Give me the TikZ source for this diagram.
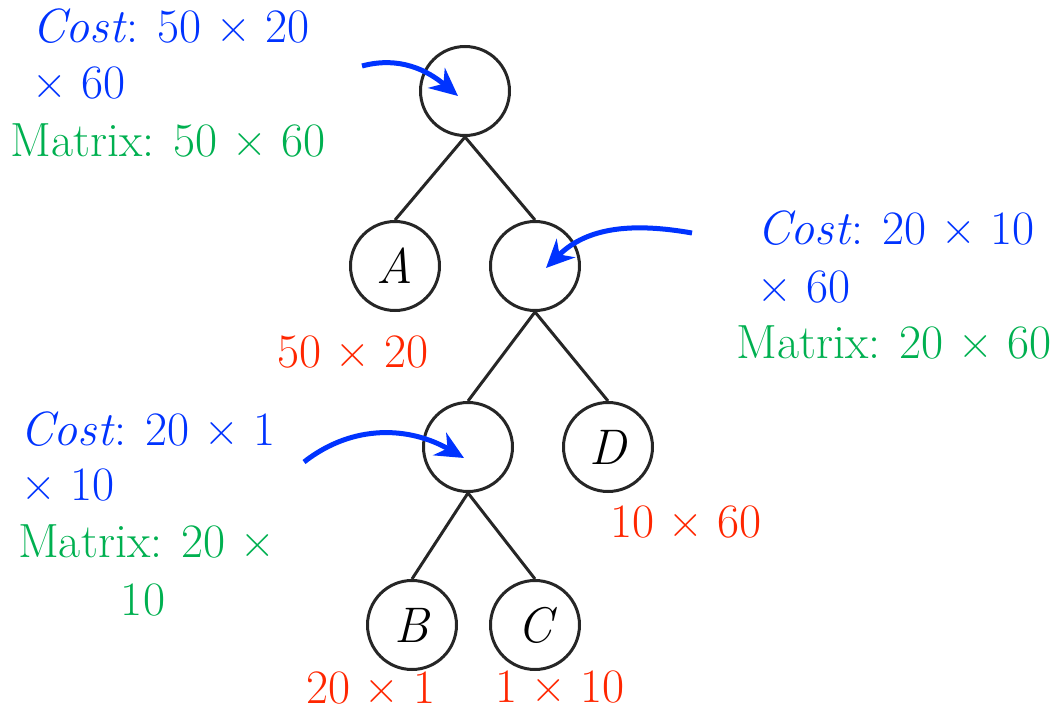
\documentclass[tikz,border=0pt]{standalone}
\usetikzlibrary{arrows.meta}
\definecolor{cblue}{RGB}{0,51,255}
\definecolor{cgreen}{RGB}{0,176,80}
\definecolor{cred}{RGB}{255,38,0}
\definecolor{cline}{RGB}{38,38,38}
\begin{document}
\begin{tikzpicture}[x=1pt,y=1pt,
  tnode/.style={circle,draw=cline,line width=3pt,minimum size=89pt,inner sep=0pt,font=\fontsize{50}{56}\selectfont\itshape},
  edge/.style={draw=cline,line width=3pt},
  pointer/.style={draw=cblue,line width=5pt,-{Stealth[length=28pt,width=26pt,inset=9pt]}},
  lbl/.style={anchor=base west,inner sep=0pt,font=\fontsize{48}{56}\selectfont},
  costtxt/.style={lbl,text=cblue},
  mattxt/.style={lbl,text=cgreen},
  dimtxt/.style={lbl,text=cred}]
\useasboundingbox (0,0) rectangle (1058,-714);
% tree nodes
\node[tnode] (root) at (465,-91) {};
\node[tnode] (A) at (395,-266) {A};
\node[tnode] (X) at (535,-266) {};
\node[tnode] (Y) at (468,-447) {};
\node[tnode] (D) at (608,-447) {D};
\node[tnode] (B) at (412,-625) {B};
\node[tnode] (C) at (535,-625) {C};
% edges
\draw[edge] (root.south) -- (A.north);
\draw[edge] (root.south) -- (X.north);
\draw[edge] (X.south) -- (Y.north);
\draw[edge] (X.south) -- (D.north);
\draw[edge] (Y.south) -- (B.north);
\draw[edge] (Y.south) -- (C.north);
% dimension labels
\node[dimtxt] (dA) at (277,-367) {50 × 20};
\node[dimtxt] (dD) at (610,-537) {10 × 60};
\node[dimtxt] (dB) at (306,-703) {20 × 1};
\node[dimtxt] (dC) at (495,-702) {1 × 10};
% annotations: root
\node[costtxt] (c1a) at (32,-43) {\textit{Cost}: 50 × 20};
\node[costtxt] (c1b) at (32,-99) {× 60};
\node[mattxt] (m1) at (10,-157) {Matrix: 50 × 60};
% annotations: right
\node[costtxt] (c2a) at (757,-245) {\textit{Cost}: 20 × 10};
\node[costtxt] (c2b) at (757,-302) {× 60};
\node[mattxt] (m2) at (736,-358) {Matrix: 20 × 60};
% annotations: lower left
\node[costtxt] (c3a) at (20,-445) {\textit{Cost}: 20 × 1};
\node[costtxt] (c3b) at (21,-500) {× 10};
\node[mattxt] (m3a) at (18,-557) {Matrix: 20 ×};
\node[mattxt,anchor=base] (m3b) at (143,-615) {10};
% pointers
\coordinate (s1) at (362,-66);
\coordinate (e1) at (458,-96);
\coordinate (s2) at (692,-233);
\coordinate (e2) at (546,-268);
\coordinate (s3) at (304,-462);
\coordinate (e3) at (464,-458);
\draw[pointer] (s1) to[out=15,in=140] (e1);
\draw[pointer] (s2) to[out=170,in=45] (e2);
\draw[pointer] (s3) to[out=38,in=150] (e3);
\end{tikzpicture}
\end{document}
